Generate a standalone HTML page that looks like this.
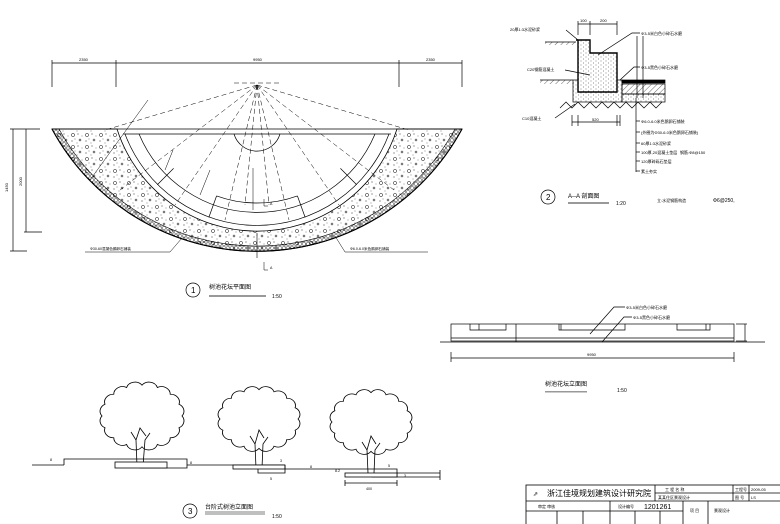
<!DOCTYPE html>
<html><head><meta charset="utf-8"><style>
html,body{margin:0;padding:0;background:#fff;}
svg{display:block;}
text{font-family:"Liberation Sans","Noto Sans CJK SC",sans-serif;fill:#000;}
</style></head><body>
<svg width="780" height="524" viewBox="0 0 780 524" xmlns="http://www.w3.org/2000/svg">
<defs>
<pattern id="grav" width="14" height="12" patternUnits="userSpaceOnUse">
<circle cx="3" cy="3" r="1.6" fill="none" stroke="#000" stroke-width="0.5"/>
<circle cx="10" cy="8" r="1" fill="none" stroke="#000" stroke-width="0.5"/>
<circle cx="8" cy="2" r="0.5" fill="#000"/>
<circle cx="2" cy="9" r="0.5" fill="#000"/>
<circle cx="12" cy="4" r="0.4" fill="#000"/>
<circle cx="5" cy="7" r="0.4" fill="#000"/>
<circle cx="7" cy="11" r="0.4" fill="#000"/>
</pattern>
<pattern id="peb" width="4" height="4" patternUnits="userSpaceOnUse">
<circle cx="2" cy="2" r="1.3" fill="none" stroke="#000" stroke-width="0.5"/>
</pattern>
<pattern id="dots" width="5" height="4" patternUnits="userSpaceOnUse">
<circle cx="1" cy="1" r="0.4" fill="#000"/><circle cx="3.5" cy="3" r="0.4" fill="#000"/>
</pattern>
<pattern id="hatch" width="4" height="4" patternUnits="userSpaceOnUse" patternTransform="rotate(45)">
<line x1="0" y1="0" x2="0" y2="4" stroke="#000" stroke-width="0.6"/>
</pattern>
<path id="crown" d="M32,0 A7,7 0 0 1 29.6,10.7 A7,7 0 0 1 22.6,19.8 A7,7 0 0 1 12.3,25.9 A7,7 0 0 1 0,28 A7,7 0 0 1 -12.3,25.9 A7,7 0 0 1 -22.6,19.8 A7,7 0 0 1 -29.6,10.7 A7,7 0 0 1 -32,0 A7,7 0 0 1 -29.6,-10.7 A7,7 0 0 1 -22.6,-19.8 A7,7 0 0 1 -12.3,-25.9 A7,7 0 0 1 0,-28 A7,7 0 0 1 12.3,-25.9 A7,7 0 0 1 22.6,-19.8 A7,7 0 0 1 29.6,-10.7 A7,7 0 0 1 32,0 Z" fill="#fff" stroke="#000" stroke-width="0.7"/>
</defs>

<g stroke="#000" stroke-width="0.7" fill="none">
<line x1="52" y1="63" x2="462" y2="63"/>
<line x1="52" y1="60" x2="52" y2="87"/><line x1="116" y1="60" x2="116" y2="87"/>
<line x1="399" y1="60" x2="399" y2="87"/><line x1="462" y1="60" x2="462" y2="87"/>
<line x1="13" y1="129" x2="13" y2="251"/><line x1="10" y1="129" x2="40" y2="129"/><line x1="10" y1="251" x2="27" y2="251"/>
<line x1="26" y1="129" x2="26" y2="232"/><line x1="24" y1="232" x2="42" y2="232"/>
</g>
<g font-size="4">
<text x="79" y="61">2350</text><text x="253" y="61">9950</text><text x="426" y="61">2350</text>
<text x="8" y="192" transform="rotate(-90 8 192)">1450</text><text x="22" y="186" transform="rotate(-90 22 186)">2000</text>
</g>

<path d="M52,129 A233,233 0 0 0 462,129 L397,129 A147,147 0 0 1 117,129 Z" fill="url(#grav)" stroke="#000" stroke-width="0.8"/>
<path d="M52,129 A233,233 0 0 0 462,129 L455,129 A226,226 0 0 1 59,129 Z" fill="url(#peb)" stroke="#000" stroke-width="0.6"/>
<path d="M52,129 A233,233 0 0 0 462,129" fill="none" stroke="#000" stroke-width="1.2"/>
<line x1="257" y1="233" x2="257" y2="258" stroke="#000" stroke-width="0.6"/>

<g stroke="#000" stroke-width="0.7" fill="none">
<line x1="52" y1="129" x2="462" y2="129"/>
<line x1="123" y1="134" x2="391" y2="134"/>
<path d="M125,134 A141,141 0 0 0 389,134"/>
<path d="M139,134 A128,128 0 0 0 375,134"/>
<path d="M216.6,195.9 A118,118 0 0 0 297.4,195.9"/>
<line x1="173.6" y1="168.4" x2="157.3" y2="184.7"/>
<line x1="340.4" y1="168.4" x2="356.7" y2="184.7"/>
<line x1="216.6" y1="195.9" x2="208.8" y2="217.5"/>
<line x1="297.4" y1="195.9" x2="305.2" y2="217.5"/>
<path d="M234,134 A24,24 0 0 0 280,134"/>
</g>
<g stroke="#000" stroke-width="0.5" stroke-dasharray="5,3" fill="none">
<line x1="234" y1="83" x2="280" y2="83"/>
<line x1="257" y1="85" x2="120" y2="190"/>
<line x1="257" y1="85" x2="105" y2="130"/>
<line x1="257" y1="85" x2="175" y2="205"/>
<line x1="257" y1="85" x2="225" y2="220"/>
<line x1="257" y1="85" x2="245" y2="205"/>
<line x1="257" y1="85" x2="269" y2="205"/>
<line x1="257" y1="85" x2="289" y2="220"/>
<line x1="257" y1="85" x2="339" y2="205"/>
<line x1="257" y1="85" x2="394" y2="190"/>
<line x1="257" y1="85" x2="409" y2="130"/>
</g>
<g stroke="#000" stroke-width="0.5" fill="none">
<line x1="148" y1="100" x2="90" y2="180"/>
<line x1="173" y1="150" x2="165" y2="170"/>
<line x1="210" y1="170" x2="200" y2="195"/>
<line x1="253" y1="168" x2="253" y2="210"/>
<polyline points="85,252 170,252 182,238"/>
<polyline points="335,236 345,252 428,252"/>
<polyline points="264,199 264,206 268,206"/>
<polyline points="264,262 264,270 268,270"/>
</g>
<g font-size="3.6">
<text x="90" y="250">Φ30-60混凝色鹅卵石铺装</text>
<text x="350" y="250">Φ6.0-6.0米色鹅卵石铺装</text>
<text x="270" y="205">A</text><text x="270" y="269">A</text>
</g>
<circle cx="193" cy="290" r="7" fill="none" stroke="#000" stroke-width="0.7"/>
<text x="191" y="293" font-size="8">1</text>
<text x="209" y="289" font-size="6">树池花坛平面图</text>
<rect x="209" y="295" width="57" height="2" fill="#999"/>
<text x="272" y="298" font-size="5">1:50</text>

<g stroke="#000" stroke-width="0.7" fill="none">
<rect x="573" y="80" width="49" height="22" fill="url(#dots)"/>
<path d="M576,40 L590,40 L590,53 L617,53 L617,92 L578,92 L578,40" fill="#fff" stroke-width="1.4"/>
<path d="M576,40 L590,40 L590,53 L617,53 L617,92 L578,92 L578,40" fill="url(#dots)"/>
<line x1="540" y1="80" x2="573" y2="80"/>
<rect x="540" y="80" width="33" height="4" fill="url(#hatch)" stroke="none"/>
<line x1="545" y1="42" x2="576" y2="42"/>
<rect x="545" y="42" width="31" height="3" fill="url(#hatch)" stroke="none"/>
<rect x="622" y="80" width="43" height="3" fill="#000"/>
<rect x="622" y="84" width="43" height="10" fill="url(#hatch)"/>
<rect x="622" y="94" width="43" height="8" fill="url(#dots)"/>
<polyline points="560,108 566,102 572,108 578,102 584,108 590,102 596,108 602,102 608,108 614,102 620,108 626,102 632,108 638,102 644,108 650,102 656,108 662,102"/>
<line x1="578" y1="24" x2="617" y2="24"/><line x1="578" y1="21" x2="578" y2="35"/><line x1="590" y1="21" x2="590" y2="35"/><line x1="617" y1="21" x2="617" y2="35"/>
<line x1="637" y1="36" x2="637" y2="98"/><line x1="643" y1="36" x2="643" y2="98"/>
<line x1="572" y1="122" x2="620" y2="122"/><line x1="572" y1="115" x2="572" y2="126"/><line x1="578" y1="115" x2="578" y2="126"/><line x1="617" y1="115" x2="617" y2="126"/><line x1="620" y1="115" x2="620" y2="126"/>
<line x1="636" y1="98" x2="636" y2="172"/>
<line x1="636" y1="121" x2="640" y2="121"/><line x1="636" y1="132" x2="640" y2="132"/><line x1="636" y1="143" x2="640" y2="143"/><line x1="636" y1="152" x2="640" y2="152"/><line x1="636" y1="161" x2="640" y2="161"/><line x1="636" y1="171" x2="640" y2="171"/>
<polyline points="566,30 578,40"/><polyline points="598,55 632,33 640,33"/>
<polyline points="620,80 634,67 640,67"/>
<line x1="565" y1="70" x2="590" y2="75"/><line x1="555" y1="118" x2="575" y2="104"/>
</g>
<g font-size="4">
<text x="510" y="31">20厚1:3水泥砂浆</text>
<text x="641" y="35">Φ3-5米白色小碎石水磨</text>
<text x="641" y="69">Φ3-5黑色小碎石水磨</text>
<text x="527" y="71">C20钢筋混凝土</text>
<text x="522" y="120">C10混凝土</text>
<text x="641" y="123">Φ6.0-6.0米色鹅卵石铺装</text>
<text x="641" y="134">(外圈为Φ30-6.0米色鹅卵石铺装)</text>
<text x="641" y="145">60厚1:3水泥砂浆</text>
<text x="641" y="154">100厚,20混凝土垫层</text><text x="680" y="154">钢筋:Φ8@150</text>
<text x="641" y="163">120厚碎砾石垫层</text>
<text x="641" y="173">素土夯实</text>
<text x="580" y="22">100</text><text x="600" y="22">200</text><text x="592" y="121">520</text>
</g>
<circle cx="548" cy="197" r="7" fill="none" stroke="#000" stroke-width="0.7"/>
<text x="546" y="200" font-size="8">2</text>
<text x="568" y="198" font-size="6">A--A 剖面图</text>
<rect x="568" y="202" width="41" height="2" fill="#999"/>
<text x="616" y="205" font-size="5">1:20</text>
<text x="657" y="202" font-size="4">立:水泥钢筋构造</text>
<text x="713" y="202" font-size="5">Φ6@250,</text>

<g stroke="#000" stroke-width="0.7" fill="none">
<rect x="451" y="324" width="283" height="17"/>
<line x1="451" y1="338" x2="734" y2="338"/>
<line x1="440" y1="342" x2="765" y2="342"/>
<polyline points="470,324 470,330 506,330 506,324"/><line x1="479" y1="324" x2="479" y2="330"/>
<polyline points="559,324 559,330 625,330 625,324"/><line x1="561" y1="324" x2="561" y2="330"/>
<polyline points="677,324 677,330 710,330 710,324"/><line x1="706" y1="324" x2="706" y2="330"/>
<line x1="516" y1="324" x2="516" y2="342"/>
<line x1="745" y1="324" x2="745" y2="341"/><line x1="736" y1="324" x2="747" y2="324"/><line x1="736" y1="341" x2="747" y2="341"/>
<line x1="451" y1="358" x2="734" y2="358"/><line x1="451" y1="352" x2="451" y2="362"/><line x1="734" y1="352" x2="734" y2="362"/>
<polyline points="590,334 614,307 625,307"/>
<polyline points="602,342 624,317 632,317"/>
</g>
<g font-size="4">
<text x="626" y="309">Φ3-5米白色小碎石水磨</text>
<text x="633" y="319">Φ3-5黑色小碎石水磨</text>
<text x="587" y="356">9950</text>
</g>
<text x="545" y="386" font-size="6">树池花坛立面图</text>
<rect x="545" y="391" width="42" height="1.5" fill="#999"/>
<text x="617" y="392" font-size="5">1:50</text>

<use href="#crown" transform="translate(142,416) scale(1.25,1.1)"/>
<use href="#crown" transform="translate(259,419) scale(1.22,1.05)"/>
<use href="#crown" transform="translate(371,422) scale(1.22,1.05)"/>
<g stroke="#000" stroke-width="0.8" fill="none">
<path d="M137,466 L136,440 L131,432 M143,466 L145,440 L150,433 M136,440 L140,428 L146,436"/>
<path d="M256,468 L255,444 L250,436 M262,468 L263,444 L268,437 M255,444 L259,430 L264,438"/>
<path d="M368,473 L367,450 L362,442 M374,473 L375,450 L380,443 M367,450 L371,436 L376,444"/>
<line x1="32" y1="465" x2="64" y2="465"/>
<polyline points="64,465 64,459 187,459 187,468 140,468 140,465"/>
<rect x="115" y="462" width="52" height="6" fill="#fff"/>
<line x1="187" y1="465" x2="285" y2="465"/>
<rect x="233" y="465" width="52" height="4" fill="#fff"/>
<polyline points="258,469 258,473 285,473 285,465"/>
<polyline points="285,469 397,469 397,477 372,477 372,473"/>
<rect x="345" y="473" width="52" height="4" fill="#fff"/>
<polyline points="397,473 440,473"/><line x1="397" y1="477" x2="440" y2="477"/>
<line x1="440" y1="470" x2="440" y2="480"/>
<line x1="345" y1="483" x2="397" y2="483"/><line x1="345" y1="480" x2="345" y2="486"/><line x1="397" y1="480" x2="397" y2="486"/>
</g>
<g font-size="3.6"><text x="50" y="461">8</text><text x="190" y="464">8</text><text x="280" y="462">3</text><text x="270" y="480">5</text><text x="310" y="468">8</text><text x="335" y="472">8.2</text><text x="388" y="467">5</text><text x="404" y="477">3</text><text x="366" y="490">400</text></g>
<circle cx="190" cy="511" r="7" fill="none" stroke="#000" stroke-width="0.7"/>
<text x="188" y="514" font-size="8">3</text>
<text x="205" y="509" font-size="6">台阶式树池立面图</text>
<line x1="205" y1="512" x2="265" y2="512" stroke="#000" stroke-width="0.6"/>
<line x1="205" y1="514" x2="265" y2="514" stroke="#000" stroke-width="0.6"/>
<text x="272" y="518" font-size="5">1:50</text>

<g stroke="#000" stroke-width="0.8" fill="none">
<rect x="526" y="485" width="260" height="45"/>
<line x1="655" y1="485" x2="655" y2="501"/>
<line x1="733" y1="485" x2="733" y2="501"/>
<line x1="749" y1="485" x2="749" y2="501"/>
<line x1="655" y1="493" x2="780" y2="493"/>
<line x1="526" y1="501" x2="780" y2="501"/>
<line x1="526" y1="511" x2="683" y2="511"/>
<line x1="557" y1="511" x2="557" y2="524"/><line x1="583" y1="511" x2="583" y2="524"/>
<line x1="610" y1="501" x2="610" y2="524"/><line x1="635" y1="511" x2="635" y2="524"/>
<line x1="660" y1="511" x2="660" y2="524"/><line x1="683" y1="501" x2="683" y2="524"/>
<line x1="708" y1="501" x2="708" y2="524"/>
</g>
<text x="533" y="496" font-size="6">⇗</text>
<text x="547" y="496" font-size="8">浙江佳境规划建筑设计研究院</text>
<g font-size="4"><text x="665" y="491">工 程 名 称</text><text x="658" y="499">某某住区景观设计</text>
<text x="735" y="491">工程号</text><text x="751" y="491">2009-05</text><text x="735" y="499">图 号</text><text x="751" y="499">LS</text>
<text x="538" y="508">审定 审核</text><text x="618" y="508">设计编号</text><text x="690" y="512">项 目</text><text x="714" y="512">景观设计</text></g>
<text x="644" y="509" font-size="7">1201261</text>
</svg>
</body></html>
